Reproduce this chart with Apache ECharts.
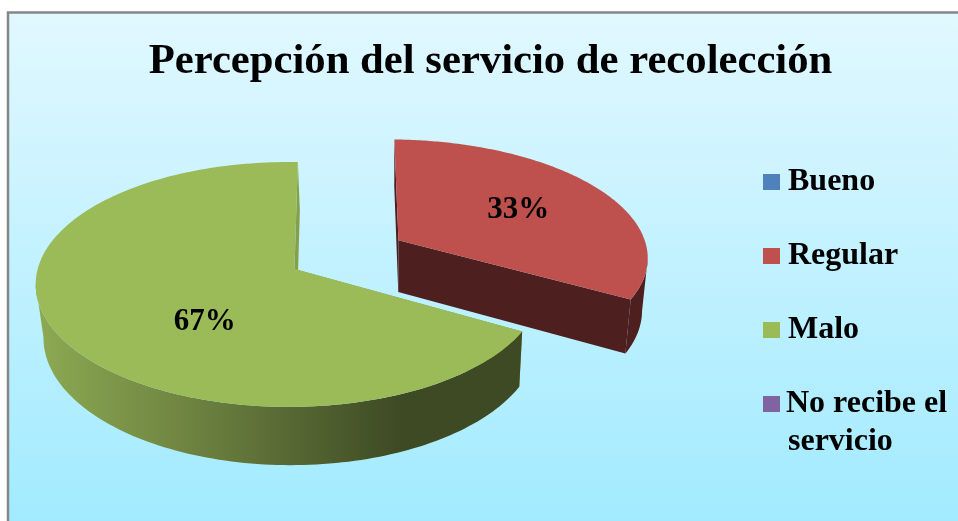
<!DOCTYPE html>
<html><head><meta charset="utf-8">
<style>html,body{margin:0;padding:0;background:#fff}#c{width:958px;height:521px}</style>
<script src="https://cdn.jsdelivr.net/npm/echarts@6/dist/echarts.min.js"></script>
</head><body><div id="c"></div>
<script>
var titleText = 'Percepción del servicio de recolección';
var categories = ['Bueno', 'Regular', 'Malo', 'No recibe el servicio'];
var lastLegendLines = ['No recibe el', 'servicio'];
var values = [0, 33, 67, 0];
var topColors = ['#4F81BD', '#BE504D', '#9BBB59', '#8064A2'];

var total = values.reduce(function (a, b) { return a + b; }, 0);
var serif = '"Liberation Serif","Times New Roman",serif';

// Perspective camera for the tilted disk (unit disk -> screen)
var cam = { e: 86.4, k: 0.1265 };
var camBySlice = {
  Regular: { a: 258, b: -45.7, c: 296, d: 3, f: 267.5, g: 0.005 },
  Malo: { a: 257, b: -41, c: 294.5, d: 7.8, f: 269, g: 0.021 }
};
var explode = { Regular: 0.47, Malo: 0 };
var labelAt = { Regular: [0.507, -0.29], Malo: [-0.33, 0.42] };

function project(X, Y, s) {
  var w = 1 + s.g * X - cam.k * Y;
  return [(s.a * X + s.b * Y + s.c) / w, (s.d * X + cam.e * Y + s.f) / w];
}
function dropped(p) { return [390 + 0.978 * (p[0] - 390), 1.04 * p[1] + 42]; }

function sideFill(name) {
  if (name === 'Malo') {
    return { type: 'linear', global: true, x: 40, y: 0, x2: 400, y2: 0,
      colorStops: [{ offset: 0, color: '#8CA952' }, { offset: 0.45, color: '#6B803F' }, { offset: 1, color: '#3E4A24' }] };
  }
  return '#4D1F1F';
}

// Index of the point with the extreme x: the silhouette of the disk's side wall
function extremeX(pts, wantMin) {
  var best = 0;
  for (var i = 1; i < pts.length; i++) {
    if (wantMin ? pts[i][0] < pts[best][0] : pts[i][0] > pts[best][0]) best = i;
  }
  return best;
}

function makeRender(index) {
  var name = categories[index];
  var startPct = 0;
  for (var i = 0; i < index; i++) startPct += values[i];
  return function (params, api) {
    var v = api.value(0);
    if (!v) return { type: 'group', children: [] };
    var s = camBySlice[name];
    var a0 = startPct / total * 2 * Math.PI, a1 = (startPct + v) / total * 2 * Math.PI;
    var mid = (a0 + a1) / 2, t = explode[name];
    var ox = t * Math.sin(mid), oy = -t * Math.cos(mid);
    var arc = [], steps = 180;
    for (var j = 0; j <= steps; j++) {
      var an = a0 + (a1 - a0) * j / steps;
      arc.push(project(ox + Math.sin(an), oy - Math.cos(an), s));
    }
    var low = arc.map(dropped);
    var apex = project(ox, oy, s);
    var lowApex = dropped(apex);
    var first = arc[0], last = arc[steps];
    var fill = sideFill(name);
    var cutFill = name === 'Malo' ? '#84A04A' : fill;
    var leftSide = mid > Math.PI;
    var iT = extremeX(arc, leftSide), iL = extremeX(low, leftSide);
    var wall = leftSide
      ? arc.slice(0, iT + 1).concat(low.slice(0, iL + 1).reverse())
      : arc.slice(iT).concat(low.slice(iL).reverse());
    var kids = [
      { type: 'polygon', shape: { points: [apex, first, dropped(first), lowApex] }, style: { fill: cutFill } },
      { type: 'polygon', shape: { points: wall }, style: { fill: fill } },
      { type: 'polygon', shape: { points: [apex, last, dropped(last), lowApex] }, style: { fill: cutFill } },
      { type: 'polygon', shape: { points: [apex].concat(arc) }, style: { fill: topColors[index] } }
    ];
    var la = labelAt[name];
    var lp = project(ox + la[0], oy + la[1], s);
    kids.push({ type: 'text', x: lp[0], y: lp[1], style: {
      text: Math.round(v / total * 100) + '%', fontFamily: serif, fontWeight: 'bold', fontSize: 31,
      fill: '#000', align: 'center', verticalAlign: 'middle' } });
    return { type: 'group', children: kids };
  };
}

var chart = echarts.init(document.getElementById('c'), null, { renderer: 'canvas' });
chart.setOption({
  animation: false,
  graphic: [{ type: 'rect', z: -10, silent: true,
    shape: { x: 8, y: 12.5, width: 970, height: 530 },
    style: { stroke: '#868686', lineWidth: 2.5,
      fill: { type: 'linear', x: 0, y: 0, x2: 0, y2: 1, colorStops: [{ offset: 0, color: '#E1F8FF' }, { offset: 1, color: '#9FEAFF' }] } } },
    { type: 'text', z: 10, silent: true, x: 788, y: 442,
      style: { text: lastLegendLines[1], fontFamily: serif, fontWeight: 'bold', fontSize: 32, fill: '#000', align: 'left', verticalAlign: 'middle' } }],
  title: { text: titleText, left: 485.5, top: 35, textAlign: 'center',
    textStyle: { fontFamily: serif, fontWeight: 'bold', fontSize: 42.7, color: '#000' } },
  legend: {
    orient: 'vertical', left: 758, top: 161, itemWidth: 17, itemHeight: 16, itemGap: 42, icon: 'rect',
    textStyle: { fontFamily: serif, fontWeight: 'bold', fontSize: 32, color: '#000', padding: [0, 0, 0, 3] },
    selectedMode: false,
    data: categories.map(function (n, i) {
      return i === 3 ? { name: n, textStyle: { padding: [0, 0, 0, 1] } } : { name: n };
    }),
    formatter: function (n) { return n === categories[3] ? lastLegendLines[0] : n; }
  },
  series: categories.map(function (n, i) {
    return { type: 'custom', name: n, coordinateSystem: 'none', silent: true,
      itemStyle: { color: topColors[i] },
      renderItem: makeRender(i), data: [[values[i]]] };
  })
});
</script></body></html>
